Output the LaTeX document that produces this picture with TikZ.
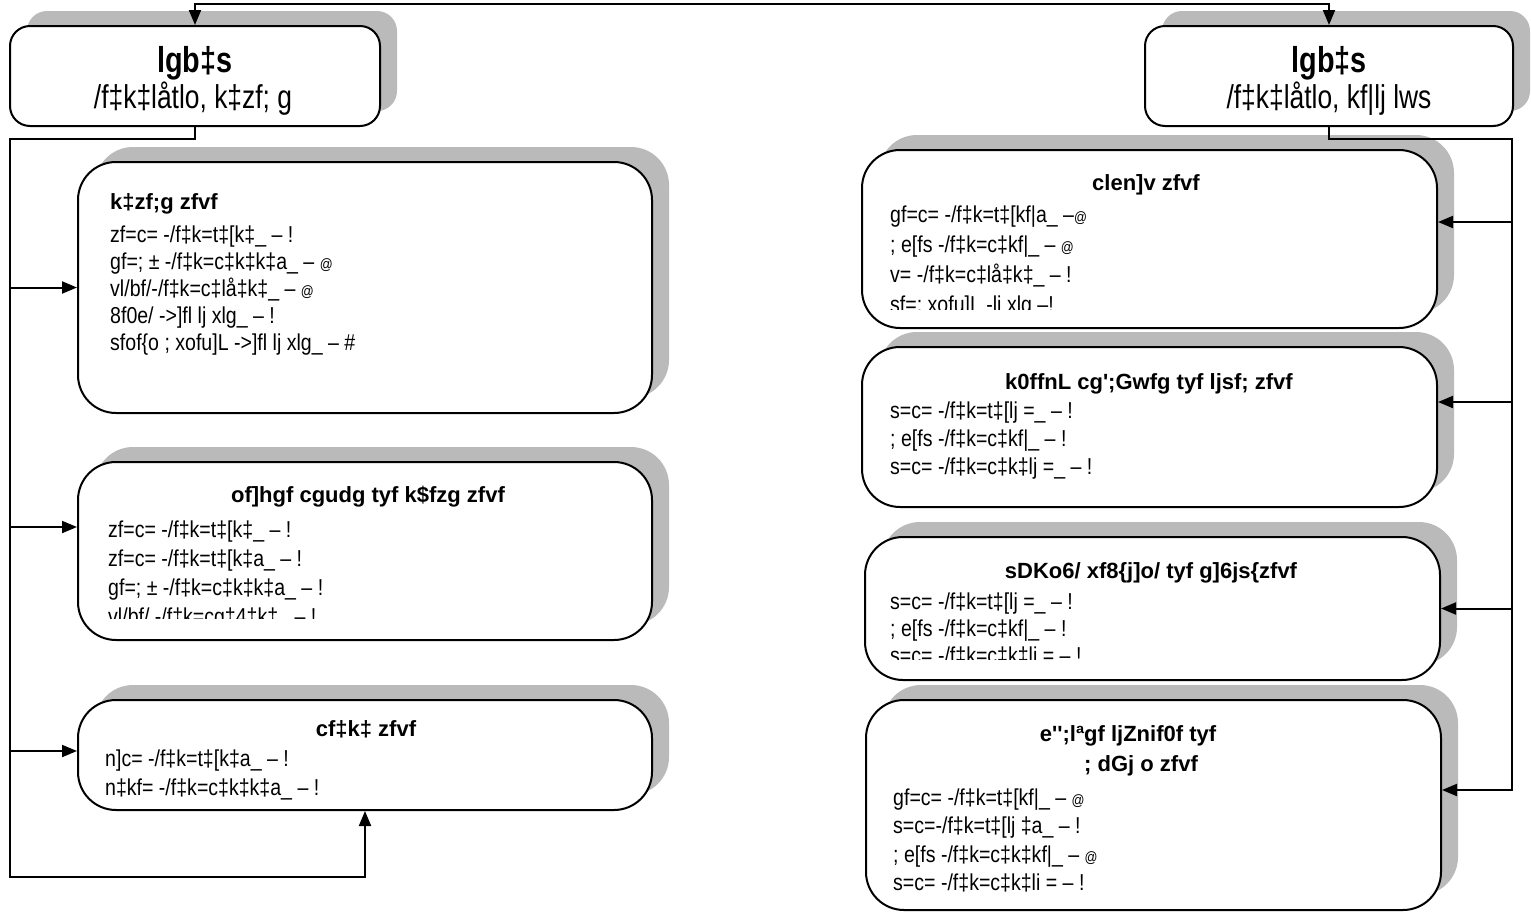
\documentclass[tikz,border=0pt]{standalone}
\usepackage{fontspec}
\setmainfont{Liberation Sans}[FakeStretch=0.85]
\newfontfamily\tfont{Liberation Sans}
\newfontfamily\nfont{Liberation Sans}[FakeStretch=0.8]
\usetikzlibrary{arrows.meta,shadows}
\newcommand\smat{{\fontsize{15}{15}\selectfont @}}
\begin{document}
\begin{tikzpicture}[x=1pt,y=-1pt,
  box/.style={draw, line width=2pt, fill=white, rounded corners=#1, inner sep=0pt,
    copy shadow={shadow xshift=17pt, shadow yshift=15pt, fill=black!27, draw=none}},
  box/.default=38pt,
  conn/.style={line width=2pt},
  tip/.style={-{Triangle[length=15pt,width=12pt]}},
  arr/.style={conn, tip},
  ttl/.style={font=\tfont\bfseries\fontsize{22}{28}\selectfont, inner sep=0pt, anchor=base},
  ttlw/.style={ttl, anchor=base west},
  bigttl/.style={font=\nfont\bfseries\fontsize{36}{36}\selectfont, inner sep=0pt, anchor=base},
  sub/.style={font=\nfont\fontsize{33}{33}\selectfont, inner sep=0pt, anchor=base},
  body/.style={font=\fontsize{23}{#1}\selectfont, inner sep=0pt, anchor=base west, align=left},
  body/.default=28pt]
\useasboundingbox (0,0) rectangle (1531,913);

% boxes
\node[box=20pt, minimum width=370pt, minimum height=100pt] (tl) at (195,76) {};
\node[box=20pt, minimum width=368pt, minimum height=100pt] (tr) at (1329,76) {};
\node[box, minimum width=574pt, minimum height=251pt] (L1) at (365,287.5) {};
\node[box, minimum width=574pt, minimum height=178pt] (L2) at (365,551) {};
\node[box, minimum width=574pt, minimum height=110pt] (L3) at (365,755) {};
\node[box, minimum width=575pt, minimum height=178pt] (R1) at (1149.5,239) {};
\node[box, minimum width=575pt, minimum height=160pt] (R2) at (1149.5,427) {};
\node[box, minimum width=575pt, minimum height=143pt] (R3) at (1152.5,608.5) {};
\node[box, minimum width=575pt, minimum height=210pt] (R4) at (1153.5,805) {};

% top boxes text
\node[bigttl] (tlt) at (195,72) {lgb‡s};
\node[sub] (tls) at (193,108) {/f‡k‡låtlo, k‡zf; g};
\node[bigttl] (trt) at (1329,72) {lgb‡s};
\node[sub] (trs) at (1329,108) {/f‡k‡låtlo, kf|lj lws};

% L1 (body nodes are placed by the baseline of their last line)
\node[ttlw] (L1t) at (110,209) {k‡zf;g zfvf};
\node[body=27pt] (L1b) at (110,350) {zf=c= -/f‡k=t‡[k‡\_ – !\\
gf=; ± -/f‡k=c‡k‡k‡a\_ – \smat\\
vl/bf/-/f‡k=c‡lå‡k‡\_ – \smat\\
8f0e/ ->]fl lj xlg\_ – !\\
sfof\{o ; xofu]L ->]fl lj xlg\_ – \#};

% L2
\node[ttl] (L2t) at (368,502) {of]hgf cgudg tyf k\$fzg zfvf};
\begin{scope}
\clip (0,0) rectangle (1531,618);
\node[body=29pt] (L2b) at (108,624) {zf=c= -/f‡k=t‡[k‡\_ – !\\
zf=c= -/f‡k=t‡[k‡a\_ – !\\
gf=; ± -/f‡k=c‡k‡k‡a\_ – !\\
vl/bf/ -/f‡k=cg‡4‡k‡\_ – !};
\end{scope}

% L3
\node[ttl] (L3t) at (366,736) {cf‡k‡ zfvf};
\node[body=29pt] (L3b) at (105,795) {n]c= -/f‡k=t‡[k‡a\_ – !\\
n‡kf= -/f‡k=c‡k‡k‡a\_ – !};

% R1
\node[ttl] (R1t) at (1146,190) {clen]v zfvf};
\begin{scope}
\clip (0,0) rectangle (1531,309);
\node[body=30pt] (R1b) at (890,312) {gf=c= -/f‡k=t‡[kf|a\_ –\smat\\
; e[fs -/f‡k=c‡kf|\_ – \smat\\
v= -/f‡k=c‡lå‡k‡\_ – !\\
sf=; xofu]L -lj xlg –!};
\end{scope}

% R2
\node[ttl] (R2t) at (1149,389) {k0ffnL cg';Gwfg tyf ljsf; zfvf};
\node[body=28pt] (R2b) at (890,474) {s=c= -/f‡k=t‡[lj =\_ – !\\
; e[fs -/f‡k=c‡kf|\_ – !\\
s=c= -/f‡k=c‡k‡lj =\_ – !};

% R3
\node[ttl] (R3t) at (1151,578) {sDKo6/ xf8\{j]o/ tyf g]6js\{zfvf};
\begin{scope}
\clip (0,0) rectangle (1531,659);
\node[body=27pt] (R3b) at (890,663) {s=c= -/f‡k=t‡[lj =\_ – !\\
; e[fs -/f‡k=c‡kf|\_ – !\\
s=c= -/f‡k=c‡k‡lj = – !};
\end{scope}

% R4
\node[ttl] (R4t) at (1128,741) {e'';lªgf ljZnif0f tyf};
\node[ttl] (R4u) at (1141,771) {; dGj o zfvf};
\node[body=28.5pt] (R4b) at (893,890.5) {gf=c= -/f‡k=t‡[kf|\_ – \smat\\
s=c=-/f‡k=t‡[lj ‡a\_ – !\\
; e[fs -/f‡k=c‡k‡kf|\_ – \smat\\
s=c= -/f‡k=c‡k‡li = – !};

% connector anchor points
\coordinate (L1in) at (L1.west);
\coordinate (L2in) at ([yshift=24pt]L2.west);
\coordinate (L3in) at ([yshift=4pt]L3.west);
\coordinate (R1in) at ([yshift=17pt]R1.east);
\coordinate (R2in) at ([yshift=25pt]R2.east);
\coordinate (R3in) at (R3.east);
\coordinate (R4in) at ([yshift=15pt]R4.east);

% connectors
\coordinate (tc) at (760,4);
\draw[conn, {Triangle[length=15pt,width=12pt]}-{Triangle[length=15pt,width=12pt]}] (tl.north) |- (tc) -| (tr.north);

\coordinate (ltop) at (10,139);
\coordinate (lbot) at (10,877);
\draw[arr] (tl.south) |- (ltop) -- (lbot) -| (L3.south);
\draw[arr] (ltop |- L1in) -- (L1in);
\draw[arr] (ltop |- L2in) -- (L2in);
\draw[arr] (ltop |- L3in) -- (L3in);

\coordinate (rtop) at (1512,139);
\draw[arr] (tr.south) |- (rtop) |- (R4in);
\draw[arr] (rtop |- R1in) -- (R1in);
\draw[arr] (rtop |- R2in) -- (R2in);
\draw[arr] (rtop |- R3in) -- (R3in);
\end{tikzpicture}
\end{document}
